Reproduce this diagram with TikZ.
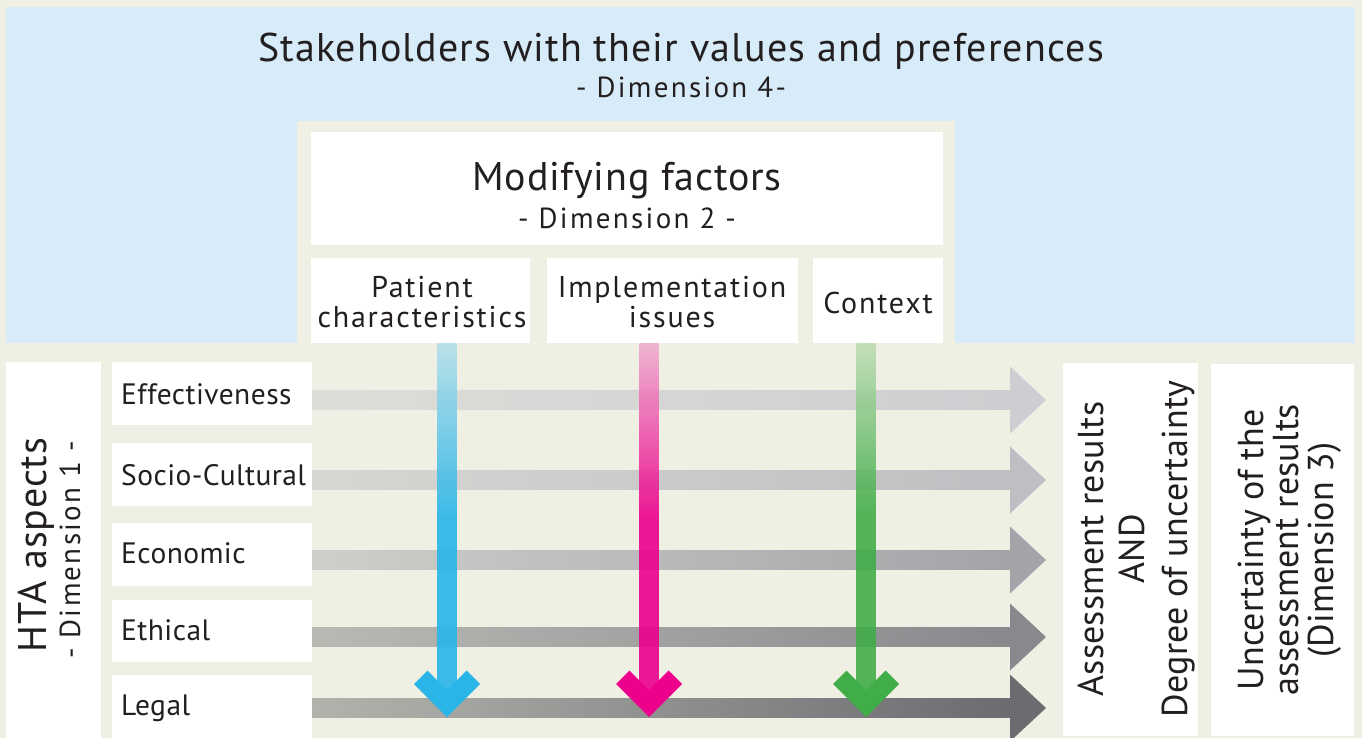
\documentclass[tikz,border=0pt]{standalone}
\usepackage{fontspec}
\setmainfont{PT Sans}
\definecolor{bgc}{HTML}{EFEFE3}
\definecolor{bluep}{HTML}{D7ECF8}
\definecolor{txt}{HTML}{231F20}
\definecolor{blueT}{HTML}{B5DFE9}
\definecolor{blueF}{HTML}{29B5E8}
\definecolor{pinkT}{HTML}{EEAFCF}
\definecolor{pinkF}{HTML}{EC008C}
\definecolor{greenT}{HTML}{BFDDB6}
\definecolor{greenF}{HTML}{41AD49}
\definecolor{gA1}{HTML}{DDDDD8}\definecolor{gA2}{HTML}{CDCED1}
\definecolor{gB1}{HTML}{D6D6D2}\definecolor{gB2}{HTML}{BEBFC2}
\definecolor{gC1}{HTML}{CECECA}\definecolor{gC2}{HTML}{A3A4A8}
\definecolor{gD1}{HTML}{B9B9B4}\definecolor{gD2}{HTML}{88898D}
\definecolor{gE1}{HTML}{B3B3AD}\definecolor{gE2}{HTML}{6B6C70}
\tikzset{
  wbox/.style={fill=white},
  titlef/.style={font=\fontsize{40}{46}\selectfont\addfontfeature{LetterSpace=2.8}},
  bigf/.style={font=\fontsize{40}{46}\selectfont\addfontfeature{LetterSpace=2}},
  rowf/.style={font=\fontsize{29.5}{34}\selectfont\addfontfeature{LetterSpace=1.5}},
  boxf/.style={font=\fontsize{30}{34}\selectfont\addfontfeature{LetterSpace=6}},
  subf/.style={font=\fontsize{29}{33}\selectfont\addfontfeature{LetterSpace=8}},
  rotf/.style={font=\fontsize{36}{42}\selectfont\addfontfeature{LetterSpace=0.5}},
  lbl/.style={text=txt, inner sep=0pt, anchor=base},
}
\begin{document}
\begin{tikzpicture}[x=1pt,y=-1pt]
\fill[bgc] (0,0) rectangle (1362,738);
\useasboundingbox (0,0) rectangle (1362,738);
% stakeholders panel
\fill[bluep] (6,7) rectangle (1355,343);
\node[lbl,titlef] (stake) at (681,62) {Stakeholders with their values and preferences};
\node[lbl,subf] (dim4) at (681,98) {- Dimension 4-};
% modifying factors container
\fill[bgc] (297,121) rectangle (955,343);
\fill[wbox] (311,132) rectangle (943,245);
\node[lbl,bigf] (mod) at (627,191) {Modifying factors};
\node[lbl,subf] (dim2) at (627,229) {- Dimension 2 -};
\fill[wbox] (311,258) rectangle (530,343);
\fill[wbox] (547,258) rectangle (798,343);
\fill[wbox] (813,258) rectangle (943,343);
\node[lbl,boxf] (pat1) at (422,297) {Patient};
\node[lbl,boxf] (pat2) at (422,327) {characteristics};
\node[lbl,boxf] (imp1) at (672,297) {Implementation};
\node[lbl,boxf] (imp2) at (672,327) {issues};
\node[lbl,boxf] (ctx) at (878,313) {Context};
% HTA aspects
\fill[wbox] (6,362) rectangle (101,738);
\node[lbl,bigf,rotate=90] (hta) at (46,545) {HTA aspects};
\node[lbl,subf,rotate=90] (dim1) at (80,550) {- Dimension 1 -};
% rows
\foreach \yt/\yb/\base/\name/\txtl in {362/425/404/eff/Effectiveness, 443/506/485/soc/Socio-Cultural, 523/586/563/eco/Economic, 600/662/640/eth/Ethical, 675/738/715/leg/Legal}{
  \fill[wbox] (112,\yt) rectangle (312,\yb);
  \node[text=txt, inner sep=0pt, anchor=base west, rowf] (\name) at (121,\base) {\txtl};
}
% horizontal arrows
\foreach \cy/\ca/\cb in {400/gA1/gA2, 480/gB1/gB2, 560/gC1/gC2, 637/gD1/gD2, 708/gE1/gE2}{
  \shade[left color=\ca, right color=\cb] (312,\cy-9.5) rectangle (1010.5,\cy+9.5);
  \fill[\cb] (1010,\cy-33.5) -- (1046,\cy) -- (1010,\cy+33.5) -- cycle;
}
% vertical arrows
\foreach \cx/\ct/\cf in {447/blueT/blueF, 649/pinkT/pinkF, 866/greenT/greenF}{
  \shade[top color=\ct, bottom color=\cf, middle color=\cf, fill opacity=0.9] (\cx-9.5,343) rectangle (\cx+9.5,692);
  \fill[\cf] (\cx,717) -- (\cx-33,684) -- (\cx-19.6,670.6) -- (\cx,690.2) -- (\cx+19.6,670.6) -- (\cx+33,684) -- cycle;
}
% right boxes
\fill[wbox] (1063,363) rectangle (1198,736);
\node[lbl,rotf,rotate=90] (ar1) at (1103,549) {Assessment results};
\node[lbl,rotf,rotate=90] (ar2) at (1144,549) {AND};
\node[lbl,rotf,rotate=90] (ar3) at (1187,549) {Degree of uncertainty};
\fill[wbox] (1211,364) rectangle (1354,736);
\node[lbl,rotf,rotate=90] (un1) at (1263,550) {Uncertainty of the};
\node[lbl,rotf,rotate=90] (un2) at (1298,550) {assessment results};
\node[lbl,rotf,rotate=90] (un3) at (1333,550) {(Dimension 3)};
\end{tikzpicture}
\end{document}
